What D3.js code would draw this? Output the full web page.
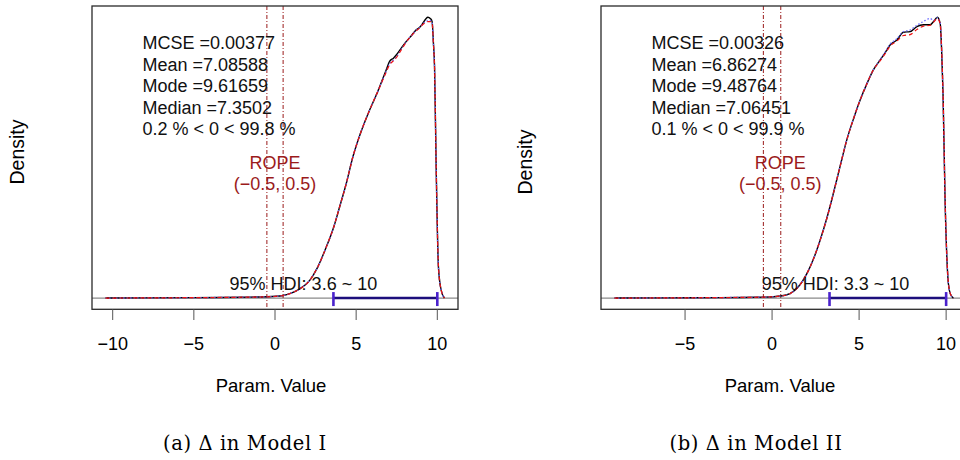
<!DOCTYPE html>
<html>
<head>
<meta charset="utf-8">
<script src="https://cdn.jsdelivr.net/npm/d3@7"></script>
<style>
  body { margin: 0; background: #fff; }
  svg { display: block; font-family: "Liberation Sans", Arial, sans-serif; }
</style>
</head>
<body>
<div id="chart"></div>
<script>
// ---------------- data: Model I ----------------
var gridA = [-10.44, -8, -5, -2, -0.5, 0.5, 1.0, 1.5, 2.14, 2.6, 3.16, 3.6, 3.98, 4.4, 4.8, 5.3, 5.83, 6.3,
  6.85, 7.06, 7.3, 7.47, 7.8, 8.08, 8.4, 8.7, 8.9, 9.11, 9.3, 9.42, 9.58, 9.68, 9.76, 9.83, 9.93, 10.07, 10.24, 10.44];
var densA = [0, 0.0001, 0.0003, 0.0006, 0.0009, 0.0018, 0.0035, 0.0063, 0.0125, 0.0211, 0.0359, 0.0493, 0.0641, 0.0810,
  0.0994, 0.1170, 0.1323, 0.1445, 0.1605, 0.1665, 0.1688, 0.1710, 0.1762, 0.1804, 0.1846, 0.1887, 0.1903, 0.1934,
  0.1966, 0.1976, 0.1966, 0.1945, 0.1797, 0.1628, 0.0923, 0.0218, 0.0054, 0];
var chainA1 = [0, 0.0001, 0.0003, 0.0006, 0.0009, 0.0018, 0.0035, 0.0063, 0.0125, 0.0211, 0.0359, 0.0493, 0.0641, 0.0810,
  0.0994, 0.1170, 0.1323, 0.1445, 0.1590, 0.1642, 0.1670, 0.1691, 0.1750, 0.1800, 0.1846, 0.1880, 0.1900, 0.1925,
  0.1940, 0.1945, 0.1945, 0.1935, 0.1790, 0.1620, 0.0930, 0.0225, 0.0056, 0];
var chainA2 = [0, 0.0001, 0.0003, 0.0006, 0.0009, 0.0018, 0.0035, 0.0063, 0.0125, 0.0211, 0.0359, 0.0493, 0.0641, 0.0810,
  0.0994, 0.1170, 0.1323, 0.1445, 0.1595, 0.1649, 0.1675, 0.1695, 0.1755, 0.1802, 0.1846, 0.1884, 0.1902, 0.1930,
  0.1945, 0.1952, 0.1952, 0.1938, 0.1792, 0.1625, 0.0925, 0.0220, 0.0055, 0];
var statsA = ["MCSE =0.00377", "Mean =7.08588", "Mode =9.61659", "Median =7.3502", "0.2 % < 0 < 99.8 %"];
var hdiA = [3.6, 10];
var ticksA = [-10, -5, 0, 5, 10];

// ---------------- data: Model II ----------------
var gridB = [-9.05, -6, -3, -1, -0.5, 0.5, 1.03, 1.5, 2.0, 2.4, 2.76, 3.15, 3.52, 3.9, 4.29, 4.7, 5.06, 5.45, 5.82,
  6.21, 6.5, 6.78, 7.17, 7.55, 7.93, 8.32, 8.7, 9.08, 9.28, 9.5, 9.66, 9.74, 9.82, 9.94, 10.13, 10.25, 10.42];
var densB = [0, 0.0001, 0.0003, 0.0005, 0.0006, 0.0013, 0.0028, 0.0070, 0.0155, 0.0254, 0.0367, 0.0508, 0.0663, 0.0832,
  0.1002, 0.1144, 0.1256, 0.1360, 0.1447, 0.1510, 0.1557, 0.1605, 0.1637, 0.1686, 0.1690, 0.1722, 0.1733, 0.1733,
  0.1754, 0.1781, 0.1741, 0.1574, 0.1302, 0.0621, 0.0091, 0.0025, 0];
var chainB1 = [0, 0.0001, 0.0003, 0.0005, 0.0006, 0.0013, 0.0028, 0.0070, 0.0155, 0.0254, 0.0367, 0.0508, 0.0663, 0.0832,
  0.1002, 0.1144, 0.1256, 0.1360, 0.1447, 0.1505, 0.1550, 0.1598, 0.1630, 0.1665, 0.1671, 0.1703, 0.1725, 0.1730,
  0.1750, 0.1772, 0.1738, 0.1580, 0.1310, 0.0630, 0.0095, 0.0026, 0];
var chainB2 = [0, 0.0001, 0.0003, 0.0005, 0.0006, 0.0013, 0.0028, 0.0070, 0.0155, 0.0254, 0.0367, 0.0508, 0.0663, 0.0832,
  0.1002, 0.1144, 0.1256, 0.1360, 0.1447, 0.1512, 0.1560, 0.1610, 0.1645, 0.1690, 0.1700, 0.1730, 0.1754, 0.1773,
  0.1760, 0.1778, 0.1745, 0.1578, 0.1305, 0.0625, 0.0093, 0.0025, 0];
var statsB = ["MCSE =0.00326", "Mean =6.86274", "Mode =9.48764", "Median =7.06451", "0.1 % < 0 < 99.9 %"];
var hdiB = [3.3, 10];
var ticksB = [-5, 0, 5, 10];

var rope = [-0.5, 0.5];

// panel placement (pixels) + label spots
var panels = [
  { left: 92, grid: gridA, dens: densA, c1: chainA1, c2: chainA2, stats: statsA, hdi: hdiA, ticks: ticksA,
    ropeTextX: 0, hdiTextX: 1.75, densLabel: [24, 152], caption: "(a) \u0394 in Model I", capX: 245 },
  { left: 601, grid: gridB, dens: densB, c1: chainB1, c2: chainB2, stats: statsB, hdi: hdiB, ticks: ticksB,
    ropeTextX: 0.47, hdiTextX: 3.64, densLabel: [532, 162], caption: "(b) \u0394 in Model II", capX: 756 }
];

var boxW = 366, boxTop = 6, boxBottom = 309.3;
var ropeColor = "#9b1b1b";

var svg = d3.select("#chart")
  .append("svg")
  .attr("width", 960)
  .attr("height", 460);

function minusFmt(v) { return v < 0 ? "\u2212" + Math.abs(v) : String(v); }

panels.forEach(function (p) {
  var lo = p.grid[0], hi = p.grid[p.grid.length - 1], w = hi - lo;
  var x = d3.scaleLinear()
    .domain([lo - 0.04 * w, hi + 0.04 * w])
    .range([p.left, p.left + boxW]);
  var ymax = d3.max(p.dens);
  var y = d3.scaleLinear()
    .domain([-0.04 * ymax, 1.04 * ymax])
    .range([boxBottom, boxTop]);

  var g = svg.append("g");

  // zero density line
  g.append("line")
    .attr("x1", p.left).attr("x2", p.left + boxW)
    .attr("y1", y(0)).attr("y2", y(0))
    .attr("stroke", "#8a8a8a").attr("stroke-width", 1.3);

  // ROPE lines
  rope.forEach(function (r) {
    g.append("line")
      .attr("x1", x(r)).attr("x2", x(r))
      .attr("y1", boxTop).attr("y2", boxBottom)
      .attr("stroke", ropeColor).attr("stroke-width", 1)
      .attr("stroke-dasharray", "4,2,1,2");
  });

  // density curves
  var line = function (vals) {
    return d3.line()
      .x(function (d, i) { return x(p.grid[i]); })
      .y(function (d) { return y(d); })
      .curve(d3.curveMonotoneX)(vals);
  };
  g.append("path").attr("d", line(p.dens))
    .attr("fill", "none").attr("stroke", "#000").attr("stroke-width", 1.4);
  g.append("path").attr("d", line(p.c2))
    .attr("fill", "none").attr("stroke", "#6a6aff").attr("stroke-width", 1.3)
    .attr("stroke-dasharray", "1.5,2");
  g.append("path").attr("d", line(p.c1))
    .attr("fill", "none").attr("stroke", "#ee1111").attr("stroke-width", 1.2)
    .attr("stroke-dasharray", "4,3");

  // HDI bar
  g.append("line")
    .attr("x1", x(p.hdi[0])).attr("x2", x(p.hdi[1]))
    .attr("y1", y(0)).attr("y2", y(0))
    .attr("stroke", "#1c0f7c").attr("stroke-width", 2.6);
  p.hdi.forEach(function (h) {
    g.append("line")
      .attr("x1", x(h)).attr("x2", x(h))
      .attr("y1", y(0) - 6).attr("y2", y(0) + 8)
      .attr("stroke", "#4a22cc").attr("stroke-width", 2.6);
  });

  // box
  g.append("rect")
    .attr("x", p.left).attr("y", boxTop)
    .attr("width", boxW).attr("height", boxBottom - boxTop)
    .attr("fill", "none").attr("stroke", "#2a2a2a").attr("stroke-width", 1.3);

  // x axis ticks
  g.selectAll(".tick")
    .data(p.ticks)
    .enter().append("line")
    .attr("x1", function (d) { return x(d); })
    .attr("x2", function (d) { return x(d); })
    .attr("y1", boxBottom).attr("y2", boxBottom + 10.7)
    .attr("stroke", "#555").attr("stroke-width", 1);
  g.selectAll(".ticklab")
    .data(p.ticks)
    .enter().append("text")
    .attr("x", function (d) { return x(d); })
    .attr("y", 349.5)
    .attr("text-anchor", "middle")
    .style("font-size", "18px")
    .text(minusFmt);

  // stats text
  g.selectAll(".stat")
    .data(p.stats)
    .enter().append("text")
    .attr("x", p.left + 50.5)
    .attr("y", function (d, i) { return 49.3 + i * 21.4; })
    .style("font-size", "18px")
    .attr("fill", "#111")
    .text(function (d) { return d; });

  // ROPE label
  g.append("text")
    .attr("x", x(p.ropeTextX)).attr("y", 169)
    .attr("text-anchor", "middle").attr("fill", ropeColor)
    .style("font-size", "18px").text("ROPE");
  g.append("text")
    .attr("x", x(p.ropeTextX)).attr("y", 190)
    .attr("text-anchor", "middle").attr("fill", ropeColor)
    .style("font-size", "18px")
    .text("(" + minusFmt(rope[0]) + ", " + rope[1] + ")");

  // HDI label
  g.append("text")
    .attr("x", x(p.hdiTextX)).attr("y", 290.3)
    .attr("text-anchor", "middle").attr("fill", "#111")
    .style("font-size", "18px")
    .text("95% HDI: " + p.hdi[0] + " ~ " + p.hdi[1]);

  // axis labels
  g.append("text")
    .attr("x", p.left + boxW / 2 - 4).attr("y", 391.5)
    .attr("text-anchor", "middle")
    .style("font-size", "18.5px")
    .text("Param. Value");
  g.append("text")
    .attr("transform", "translate(" + p.densLabel[0] + "," + p.densLabel[1] + ") rotate(-90)")
    .attr("text-anchor", "middle")
    .style("font-size", "19.5px")
    .text("Density");

  // caption
  g.append("text")
    .attr("x", p.capX).attr("y", 450)
    .attr("text-anchor", "middle")
    .style("font-family", "'DejaVu Serif', serif")
    .style("font-size", "19.5px")
    .style("letter-spacing", "0.6px")
    .text(p.caption);
});
</script>
</body>
</html>
